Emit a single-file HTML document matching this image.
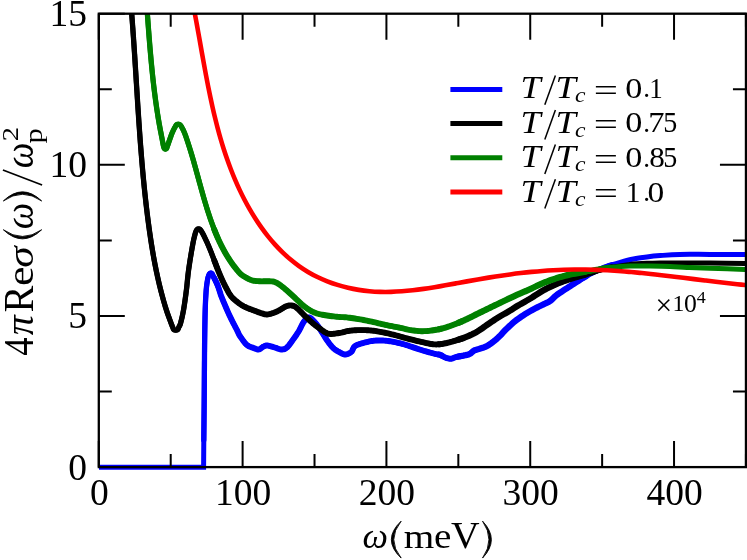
<!DOCTYPE html>
<html><head><meta charset="utf-8"><title>chart</title>
<style>
html,body{margin:0;padding:0;background:#fff;}
body{width:747px;height:560px;overflow:hidden;position:relative;font-family:"Liberation Serif",serif;}
</style></head><body>
<svg width="747" height="560" viewBox="0 0 747 560" style="position:absolute;left:0;top:0;display:block;will-change:transform">
<rect x="0" y="0" width="747" height="560" fill="#fff"/>
<defs><clipPath id="pc"><rect x="98.8" y="13.7" width="646.2" height="456.4"/></clipPath></defs>
<g clip-path="url(#pc)" fill="none" stroke-width="5" stroke-linejoin="round" stroke-linecap="butt">
<path d="M99 467.3 L203.6 467.3 L203.8 440 C203.87 433.33 204.07 415.87 204.20 400.00 C204.33 384.13 204.43 359.77 204.60 344.80 C204.77 329.83 204.93 319.32 205.20 310.20 C205.47 301.08 205.80 295.23 206.20 290.10 C206.60 284.97 207.18 281.82 207.60 279.40 C208.02 276.98 208.33 276.58 208.70 275.60 C209.07 274.62 209.28 273.87 209.80 273.50 C210.32 273.13 211.22 272.95 211.80 273.40 C212.38 273.85 212.35 274.27 213.30 276.20 C214.25 278.13 216.40 282.37 217.50 285.00 C218.60 287.63 219.15 289.83 219.90 292.00 C220.65 294.17 220.43 294.17 222.00 298.00 C223.57 301.83 226.80 309.63 229.30 315.00 C231.80 320.37 235.22 326.68 237.00 330.20 C238.78 333.72 238.38 333.67 240.00 336.10 C241.62 338.53 244.47 342.83 246.70 344.80 C248.93 346.77 251.40 347.12 253.40 347.90 C255.40 348.68 257.03 349.72 258.70 349.50 C260.37 349.28 261.95 347.27 263.40 346.60 C264.85 345.93 265.50 345.35 267.40 345.50 C269.30 345.65 272.45 346.83 274.80 347.50 C277.15 348.17 279.48 349.50 281.50 349.50 C283.52 349.50 284.90 349.25 286.90 347.50 C288.90 345.75 291.50 341.75 293.50 339.00 C295.50 336.25 297.33 333.63 298.90 331.00 C300.47 328.37 301.78 325.10 302.90 323.20 C304.02 321.30 304.82 320.48 305.60 319.60 C306.38 318.72 306.93 318.23 307.60 317.90 C308.27 317.57 308.77 317.28 309.60 317.60 C310.43 317.92 311.10 318.23 312.60 319.80 C314.10 321.37 316.25 323.67 318.60 327.00 C320.95 330.33 324.23 336.27 326.70 339.80 C329.17 343.33 331.08 346.03 333.40 348.20 C335.72 350.37 338.57 351.75 340.60 352.80 C342.63 353.85 343.80 354.67 345.60 354.50 C347.40 354.33 349.87 353.18 351.40 351.80 C352.93 350.42 352.90 347.65 354.80 346.20 C356.70 344.75 359.68 344.00 362.80 343.10 C365.92 342.20 369.92 341.22 373.50 340.80 C377.08 340.38 380.72 340.37 384.30 340.60 C387.88 340.83 391.43 341.50 395.00 342.20 C398.57 342.90 403.08 344.08 405.70 344.80 C408.32 345.52 407.85 345.55 410.70 346.50 C413.55 347.45 418.78 349.28 422.80 350.50 C426.82 351.72 431.90 353.06 434.80 353.80 C437.70 354.54 438.42 354.28 440.20 354.91 C441.98 355.54 443.72 356.94 445.50 357.57 C447.28 358.21 449.12 358.84 450.90 358.75 C452.68 358.65 453.97 357.56 456.20 357.01 C458.43 356.45 462.07 355.92 464.30 355.41 C466.53 354.91 467.93 354.80 469.60 353.98 C471.27 353.16 472.52 351.37 474.30 350.47 C476.08 349.57 478.18 349.32 480.30 348.57 C482.42 347.82 484.77 347.18 487.00 345.98 C489.23 344.79 491.58 343.04 493.70 341.39 C495.82 339.75 497.63 338.11 499.70 336.10 C501.77 334.08 503.25 332.01 506.10 329.30 C508.95 326.59 512.78 322.89 516.80 319.85 C520.82 316.82 525.75 313.69 530.20 311.10 C534.65 308.51 540.17 306.03 543.50 304.33 C546.83 302.63 547.97 302.48 550.20 300.90 C552.43 299.32 553.55 297.34 556.90 294.87 C560.25 292.39 565.83 288.96 570.30 286.07 C574.77 283.17 579.85 279.83 583.70 277.52 C587.55 275.22 589.55 274.05 593.40 272.22 C597.25 270.40 602.33 268.23 606.80 266.59 C611.27 264.95 615.75 263.65 620.20 262.39 C624.65 261.13 629.05 259.93 633.50 259.03 C637.95 258.12 642.43 257.54 646.90 256.96 C651.37 256.39 654.83 256.01 660.30 255.59 C665.77 255.16 671.42 254.61 679.70 254.41 C687.98 254.21 698.62 254.40 710.00 254.40 C721.38 254.40 741.67 254.40 748.00 254.40" stroke="#0000ff" stroke-linejoin="miter"/>
<path d="M203.80 440.00 L203.83 437.02 L203.87 433.17 L203.92 428.60 L203.98 423.45 L204.03 417.87 L204.09 412.01 L204.15 406.00 L204.20 400.00 L204.25 393.69 L204.30 386.79 L204.34 379.51 L204.39 372.06 L204.44 364.66 L204.49 357.51 L204.54 350.82 L204.60 344.80 L204.66 339.39 L204.73 334.36 L204.79 329.68 L204.86 325.31 L204.94 321.21 L205.02 317.35 L205.10 313.69 L205.20 310.20 L205.30 306.93 L205.41 303.94 L205.53 301.19 L205.65 298.66 L205.78 296.31 L205.91 294.12 L206.05 292.06 L206.20 290.10 L206.36 288.27 L206.53 286.60 L206.71 285.10 L206.89 283.73 L207.08 282.49 L207.26 281.37 L207.44 280.34 L207.60 279.40 L207.75 278.58 L207.90 277.92 L208.03 277.39 L208.17 276.96 L208.30 276.60 L208.43 276.27 L208.56 275.95 L208.70 275.60 L208.83 275.24 L208.95 274.91 L209.07 274.60 L209.19 274.32 L209.32 274.07 L209.46 273.84 L209.62 273.66 L209.80 273.50 L210.01 273.37 L210.25 273.27 L210.51 273.19 L210.78 273.14 L211.05 273.14 L211.31 273.17 L211.57 273.26 L211.80 273.40 L211.99 273.57 L212.15 273.76 L212.28 273.97 L212.41 274.24 L212.56 274.58 L212.75 275.01 L212.99 275.54 L213.30 276.20 L213.71 277.03 L214.20 278.02 L214.76 279.14 L215.34 280.34 L215.94 281.57 L216.51 282.79 L217.04 283.95 L217.50 285.00 L217.89 285.97" stroke="#0000ff" stroke-width="5.3" stroke-linecap="round"/>
<path d="M214.20 278.02 L214.76 279.14 L215.34 280.34 L215.94 281.57 L216.51 282.79 L217.04 283.95 L217.50 285.00 L217.89 285.97 L218.23 286.90 L218.55 287.80 L218.83 288.68 L219.10 289.53 L219.36 290.36 L219.63 291.19 L219.90 292.00 L220.14 292.72 L220.32 293.31 L220.48 293.84 L220.64 294.38 L220.84 294.99 L221.12 295.75 L221.49 296.73 L222.00 298.00 L222.66 299.61 L223.45 301.52 L224.34 303.65 L225.30 305.93 L226.30 308.27 L227.33 310.62 L228.33 312.89 L229.30 315.00 L230.28 317.05 L231.31 319.14 L232.36 321.24 L233.42 323.29 L234.44 325.26 L235.40 327.10 L236.26 328.76 L237.00 330.20 L237.57 331.36 L237.99 332.26 L238.31 332.97 L238.56 333.56 L238.81 334.09 L239.10 334.65 L239.48 335.29 L240.00 336.10 L240.66 337.09 L241.41 338.21 L242.24 339.40 L243.12 340.63 L244.02 341.82 L244.94 342.95 L245.84 343.96 L246.70 344.80 L247.55 345.47 L248.41 346.00 L249.27 346.44 L250.14 346.79 L250.99 347.09 L251.82 347.36 L252.63 347.62 L253.40 347.90 L254.13 348.20 L254.84 348.51 L255.52 348.81 L256.17 349.07 L256.82 349.30 L257.45 349.45 L258.08 349.53 L258.70 349.50 L259.32 349.34 L259.93 349.05 L260.54 348.66 L261.13 348.22 L261.72 347.75 L262.29 347.30 L262.85 346.91 L263.40 346.60 L263.91 346.36 L264.37 346.13 L264.80 345.92 L265.23 345.74 L265.68 345.61 L266.18 345.51 L266.74 345.48 L267.40 345.50 L268.17 345.60 L269.03 345.78 L269.96 346.02 L270.93 346.31 L271.93 346.61 L272.92 346.93 L273.89 347.23 L274.80 347.50 L275.68 347.78 L276.55 348.09 L277.42 348.43 L278.27 348.75 L279.11 349.04 L279.93 349.28 L280.73 349.44 L281.50 349.50 L282.23 349.49 L282.91 349.43 L283.57 349.33 L284.21 349.16 L284.84 348.90 L285.50 348.55 L286.18 348.09 L286.90 347.50 L287.68 346.75 L288.49 345.82 L289.34 344.77 L290.20 343.62 L291.06 342.44 L291.91 341.24 L292.72 340.08 L293.50 339.00 L294.24 337.97 L294.97 336.96 L295.67 335.95 L296.36 334.96 L297.03 333.96 L297.68 332.97 L298.30 331.99 L298.90 331.00 L299.48 329.99 L300.03 328.94 L300.56 327.88 L301.07 326.82 L301.56 325.81 L302.02 324.85 L302.47 323.97 L302.90 323.20 L303.30 322.54 L303.68 321.96 L304.04 321.46 L304.37 321.02 L304.70 320.63 L305.00 320.27 L305.30 319.93 L305.60 319.60 L305.88 319.29 L306.15 319.01 L306.40 318.76 L306.64 318.54 L306.88 318.35 L307.12 318.18 L307.35 318.03 L307.60 317.90 L307.84 317.78 L308.08 317.67 L308.31 317.58 L308.54 317.51 L308.78 317.47 L309.03 317.47 L309.30 317.51 L309.60 317.60 L309.91 317.72 L310.21 317.86 L310.52 318.02 L310.85 318.23 L311.21 318.50 L311.62 318.84 L312.07 319.27 L312.60 319.80 L313.19 320.42 L313.84 321.12 L314.54 321.89 L315.28 322.74 L316.06 323.67 L316.88 324.69 L317.73 325.80 L318.60 327.00 L319.52 328.36 L320.51 329.91 L321.55 331.58 L322.61 333.33 L323.67 335.08 L324.72 336.78 L325.74 338.37 L326.70 339.80 L327.60 341.09 L328.46 342.30 L329.29 343.44 L330.11 344.51 L330.91 345.52 L331.72 346.47 L332.55 347.36 L333.40 348.20 L334.29 348.98 L335.22 349.69 L336.16 350.33 L337.11 350.92 L338.04 351.45 L338.94 351.94 L339.80 352.39 L340.60 352.80 L341.32 353.18 L341.99 353.53 L342.60 353.84 L343.19 354.11 L343.76 354.31 L344.35 354.45 L344.95 354.52 L345.60 354.50 L346.30 354.39 L347.05 354.20 L347.82 353.94 L348.60 353.61 L349.37 353.22 L350.10 352.78 L350.78 352.31 L351.40 351.80 L351.91 351.22 L352.31 350.55 L352.65 349.80 L352.96 349.02 L353.29 348.24 L353.68 347.49 L354.17 346.80 L354.80 346.20 L355.56 345.69 L356.41 345.23 L357.34 344.82 L358.34 344.44 L359.40 344.09 L360.50 343.76 L361.64 343.43 L362.80 343.10 L364.01 342.76 L365.28 342.42 L366.61 342.09 L367.98 341.77 L369.36 341.47 L370.75 341.21 L372.14 340.98 L373.50 340.80 L374.85 340.66 L376.20 340.56 L377.55 340.49 L378.90 340.46 L380.25 340.45 L381.60 340.47 L382.95 340.52 L384.30 340.60 L385.64 340.71 L386.98 340.85 L388.32 341.02 L389.66 341.23 L390.99 341.45 L392.33 341.69 L393.66 341.94 L395.00 342.20 L396.38 342.48 L397.81 342.80 L399.26 343.14 L400.71 343.49 L402.10 343.85 L403.43 344.19 L404.64 344.51 L405.70 344.80 L406.55 345.04 L407.18 345.23 L407.68 345.40 L408.11 345.56 L408.56 345.73 L409.08 345.93 L409.77 346.18 L410.70 346.50 L411.87 346.89 L413.23 347.35 L414.72 347.86 L416.31 348.40 L417.96 348.95 L419.62 349.50 L421.24 350.02 L422.80 350.50 L424.35 350.96 L425.96 351.43 L427.60 351.89 L429.22 352.33 L430.79 352.75 L432.27 353.15 L433.62 353.50 L434.80 353.80 L435.79 354.03 L436.62 354.20 L437.31 354.31 L437.92 354.39 L438.47 354.48 L439.01 354.57 L439.57 354.71 L440.20 354.91 L440.87 355.18 L441.53 355.50" stroke="#0000ff" stroke-width="5.9" stroke-linecap="round"/>
<path d="M438.47 354.48 L439.01 354.57 L439.57 354.71 L440.20 354.91 L440.87 355.18 L441.53 355.50 L442.19 355.86 L442.85 356.24 L443.51 356.62 L444.17 356.98 L444.83 357.30 L445.50 357.57 L446.17 357.81 L446.85 358.04 L447.52 358.25 L448.20 358.43 L448.88 358.58 L449.55 358.69 L450.23 358.75 L450.90 358.75 L451.55 358.67 L452.17 358.51 L452.77 358.30 L453.38 358.05 L454.01 357.78 L454.68 357.50 L455.40 357.24 L456.20 357.01 L457.10 356.80 L458.09 356.60 L459.16 356.39 L460.25 356.19 L461.34 356.00" stroke="#0000ff" stroke-width="6" stroke-linecap="round"/>
<path d="M458.09 356.60 L459.16 356.39 L460.25 356.19 L461.34 356.00 L462.41 355.80 L463.40 355.61 L464.30 355.41 L465.10 355.24 L465.84 355.09 L466.52 354.96 L467.16 354.82 L467.78 354.66 L468.38 354.48 L468.99 354.26 L469.60 353.98 L470.21 353.63 L470.79 353.21 L471.35 352.75 L471.91 352.25 L472.47 351.76 L473.05 351.28 L473.65 350.85 L474.30 350.47 L474.98 350.16 L475.69 349.90 L476.42 349.67 L477.18 349.46 L477.94 349.26 L478.72 349.06 L479.51 348.83 L480.30 348.57 L481.10 348.29 L481.93 348.02 L482.76 347.74 L483.61 347.45 L484.46 347.13 L485.31 346.79 L486.16 346.41 L487.00 345.98 L487.84 345.51 L488.69 344.99 L489.54 344.44 L490.39 343.86 L491.24 343.26 L492.07 342.64 L492.90 342.02 L493.70 341.39 L494.48 340.78 L495.24 340.16 L495.98 339.53 L496.72 338.88 L497.45 338.22 L498.19 337.54 L498.94 336.83 L499.70 336.10 L500.45 335.34 L501.17 334.56 L501.88 333.77 L502.61 332.96 L503.37 332.11 L504.19 331.22 L505.09 330.29 L506.10 329.30 L507.21 328.24 L508.41 327.11 L509.68 325.92 L511.01 324.70 L512.40 323.46 L513.83 322.23 L515.30 321.02 L516.80 319.85 L518.35 318.71 L519.96 317.57 L521.63 316.43 L523.34 315.31 L525.06 314.21 L526.79 313.13 L528.51 312.09 L530.20 311.10 L531.91 310.14 L533.69 309.19 L535.48 308.27 L537.27 307.38 L539.00 306.54 L540.64 305.74 L542.15 305.01 L543.50 304.33 L544.65 303.76 L545.64 303.30 L546.50 302.92 L547.26 302.57 L547.98 302.23 L548.68 301.86 L549.41 301.43 L550.20 300.90 L550.99 300.29 L551.72 299.64 L552.42 298.95 L553.13 298.22 L553.90 297.44 L554.75 296.63 L555.74 295.77 L556.90 294.87 L558.25 293.90 L559.78 292.85 L561.43 291.76 L563.18 290.62 L564.98 289.47 L566.79 288.31 L568.58 287.17 L570.30 286.07 L572.00 284.96 L573.74 283.84 L575.49 282.70 L577.23 281.58 L578.95 280.48 L580.61 279.42 L582.20 278.43 L583.70 277.52 L585.06 276.71 L586.30 275.98" stroke="#0000ff" stroke-width="6.3" stroke-linecap="round"/>
<path d="M583.70 277.52 L585.06 276.71 L586.30 275.98 L587.45 275.31 L588.55 274.69 L589.65 274.09 L590.80 273.50 L592.04 272.88 L593.40 272.22 L594.90 271.53 L596.49 270.80 L598.15 270.07 L599.87 269.34 L601.61 268.61 L603.36 267.90 L605.10 267.23 L606.80 266.59 L608.48 265.99 L610.15 265.42 L611.83 264.87" stroke="#0000ff" stroke-width="5.6" stroke-linecap="round"/>
<path d="M130.57 0.04 C130.76 2.29 131.33 9.05 131.69 13.57 C132.04 18.08 132.38 22.60 132.71 27.12 C133.04 31.64 133.36 36.16 133.67 40.69 C133.98 45.21 134.28 49.74 134.58 54.28 C134.87 58.81 135.16 63.34 135.45 67.87 C135.73 72.41 136.02 76.94 136.30 81.48 C136.58 86.02 136.87 90.56 137.15 95.10 C137.44 99.63 137.73 104.17 138.02 108.71 C138.32 113.25 138.62 117.79 138.93 122.33 C139.24 126.87 139.55 131.40 139.88 135.94 C140.21 140.48 140.55 145.01 140.91 149.55 C141.26 154.08 141.63 158.61 142.02 163.14 C142.41 167.67 142.81 172.20 143.23 176.73 C143.66 181.25 144.10 185.78 144.57 190.29 C145.04 194.81 145.52 199.33 146.04 203.84 C146.56 208.36 147.10 212.86 147.67 217.37 C148.24 221.87 148.84 226.37 149.47 230.87 C150.11 235.36 150.77 239.85 151.48 244.34 C152.20 248.82 152.94 253.29 153.75 257.75 C154.56 262.21 155.42 266.67 156.34 271.11 C157.27 275.55 158.25 279.97 159.30 284.38 C160.36 288.79 161.48 293.19 162.70 297.57 C163.91 301.94 165.15 306.32 166.57 310.64 C167.99 314.96 170.20 320.77 171.20 323.50 C172.20 326.23 172.13 325.97 172.60 327.00 C173.07 328.03 173.18 329.25 174.00 329.70 C174.82 330.15 176.68 330.15 177.50 329.70 C178.32 329.25 178.40 328.03 178.90 327.00 C179.40 325.97 179.73 326.30 180.50 323.50 C181.27 320.70 182.52 315.77 183.50 310.20 C184.48 304.63 185.55 296.80 186.40 290.10 C187.25 283.40 187.57 277.48 188.60 270.00 C189.63 262.52 191.50 251.27 192.60 245.20 C193.70 239.13 194.47 236.20 195.20 233.60 C195.93 231.00 196.43 230.38 197.00 229.60 C197.57 228.82 198.05 228.90 198.60 228.90 C199.15 228.90 199.64 228.88 200.30 229.60 C200.96 230.32 201.47 231.11 202.58 233.21 C203.69 235.31 205.59 239.16 206.96 242.20 C208.34 245.23 209.58 248.33 210.82 251.43 C212.06 254.52 213.22 257.66 214.41 260.78 C215.61 263.89 216.77 267.02 218.02 270.11 C219.27 273.20 220.52 276.29 221.90 279.32 C223.29 282.34 224.72 285.34 226.33 288.26 C227.95 291.17 229.31 294.18 231.59 296.81 C233.86 299.43 237.60 302.23 240.00 304.00 C242.40 305.77 243.77 306.35 246.00 307.40 C248.23 308.45 250.73 309.30 253.40 310.30 C256.07 311.30 259.57 312.72 262.00 313.40 C264.43 314.08 265.42 314.77 268.00 314.40 C270.58 314.03 274.58 312.50 277.50 311.20 C280.42 309.90 283.27 307.57 285.50 306.60 C287.73 305.63 289.12 305.27 290.90 305.40 C292.68 305.53 293.97 305.75 296.20 307.40 C298.43 309.05 301.62 312.73 304.30 315.30 C306.98 317.87 309.63 320.53 312.30 322.80 C314.97 325.07 318.12 327.30 320.30 328.90 C322.48 330.50 323.67 331.55 325.40 332.40 C327.13 333.25 328.25 333.93 330.70 334.00 C333.15 334.07 336.97 333.33 340.10 332.80 C343.23 332.27 346.15 331.25 349.50 330.80 C352.85 330.35 356.63 330.15 360.20 330.10 C363.77 330.05 367.33 330.17 370.90 330.50 C374.47 330.83 377.58 331.33 381.60 332.10 C385.62 332.87 390.77 334.05 395.00 335.10 C399.23 336.15 402.67 337.28 407.00 338.40 C411.33 339.52 416.37 340.83 421.00 341.83 C425.63 342.83 430.72 344.17 434.80 344.40 C438.88 344.63 441.93 343.90 445.50 343.23 C449.07 342.56 452.63 341.48 456.20 340.38 C459.77 339.28 463.33 338.13 466.90 336.63 C470.47 335.12 473.75 333.65 477.60 331.35 C481.45 329.05 486.27 325.33 490.00 322.83 C493.73 320.34 496.67 318.43 500.00 316.40 C503.33 314.37 507.20 312.32 510.00 310.63 C512.80 308.95 513.43 308.30 516.80 306.29 C520.17 304.29 525.75 301.27 530.20 298.60 C534.65 295.92 539.05 292.72 543.50 290.26 C547.95 287.81 552.43 285.74 556.90 283.86 C561.37 281.98 564.83 280.75 570.30 279.00 C575.77 277.24 584.97 274.78 589.70 273.34 C594.43 271.89 595.32 271.31 598.70 270.32 C602.08 269.32 606.42 268.10 610.00 267.37 C613.58 266.63 616.87 266.39 620.20 265.89 C623.53 265.40 625.55 264.82 630.00 264.40 C634.45 263.98 641.90 263.58 646.90 263.35 C651.90 263.11 654.53 263.07 660.00 263.00 C665.47 262.93 671.37 262.88 679.70 262.90 C688.03 262.92 698.62 262.98 710.00 263.10 C721.38 263.22 741.67 263.52 748.00 263.60" stroke="#000000"/>
<path d="M130.57 0.04 L130.66 1.08 L130.78 2.47 L130.91 4.12 L131.07 5.95 L131.23 7.90 L131.39 9.86 L131.54 11.78 L131.69 13.57 L131.82 15.26 L131.95 16.95 L132.08 18.65 L132.21 20.34 L132.34 22.03 L132.46 23.73 L132.59 25.42 L132.71 27.12 L132.84 28.81 L132.96 30.51 L133.08 32.21 L133.20 33.90 L133.32 35.60 L133.44 37.29 L133.55 38.99 L133.67 40.69 L133.79 42.39 L133.90 44.08 L134.02 45.78 L134.13 47.48 L134.24 49.18 L134.35 50.88 L134.47 52.58 L134.58 54.28 L134.69 55.97 L134.80 57.67 L134.91 59.37 L135.01 61.07 L135.12 62.77 L135.23 64.47 L135.34 66.17 L135.45 67.87 L135.55 69.57 L135.66 71.27 L135.77 72.98 L135.87 74.68 L135.98 76.38 L136.09 78.08 L136.19 79.78 L136.30 81.48 L136.41 83.18 L136.51 84.88 L136.62 86.59 L136.73 88.29 L136.83 89.99 L136.94 91.69 L137.05 93.39 L137.15 95.10 L137.26 96.80 L137.37 98.50 L137.48 100.20 L137.58 101.90 L137.69 103.61 L137.80 105.31 L137.91 107.01 L138.02 108.71 L138.13 110.41 L138.24 112.12 L138.36 113.82 L138.47 115.52 L138.58 117.22 L138.70 118.92 L138.81 120.63 L138.93 122.33 L139.04 124.03 L139.16 125.73 L139.28 127.43 L139.40 129.14 L139.52 130.84 L139.64 132.54 L139.76 134.24 L139.88 135.94 L140.01 137.64 L140.13 139.34 L140.26 141.04 L140.38 142.75 L140.51 144.45 L140.64 146.15 L140.77 147.85 L140.91 149.55 L141.04 151.25 L141.18 152.95 L141.31 154.65 L141.45 156.35 L141.59 158.05 L141.73 159.75 L141.87 161.44 L142.02 163.14 L142.16 164.84 L142.31 166.54 L142.46 168.24 L142.61 169.94 L142.76 171.64 L142.92 173.33 L143.07 175.03 L143.23 176.73 L143.39 178.42 L143.55 180.12 L143.72 181.82 L143.88 183.51 L144.05 185.21 L144.22 186.90 L144.39 188.60 L144.57 190.29 L144.74 191.99 L144.92 193.68 L145.10 195.38 L145.29 197.07 L145.47 198.76 L145.66 200.46 L145.85 202.15 L146.04 203.84 L146.24 205.54 L146.43 207.23 L146.63 208.92 L146.84 210.61 L147.04 212.30 L147.25 213.99 L147.46 215.68 L147.67 217.37 L147.89 219.06 L148.10 220.75 L148.32 222.43 L148.55 224.12 L148.77 225.81 L149.00 227.50 L149.24 229.18 L149.47 230.87 L149.71 232.55 L149.95 234.24 L150.20 235.92 L150.45 237.61 L150.70 239.29 L150.96 240.97 L151.22 242.65 L151.48 244.34 L151.75 246.02 L152.02 247.69 L152.30 249.37 L152.58 251.05 L152.87 252.73 L153.16 254.40 L153.45 256.08 L153.75 257.75 L154.06 259.43 L154.37 261.10 L154.68 262.77 L155.00 264.44 L155.33 266.11 L155.66 267.78 L156.00 269.44 L156.34 271.11 L156.69 272.77 L157.05 274.43 L157.41 276.10 L157.77 277.76 L158.15 279.42 L158.53 281.07 L158.91 282.73 L159.30 284.38 L159.70 286.04 L160.11 287.69 L160.52 289.34 L160.94 290.99 L161.37 292.63 L161.80 294.28 L162.25 295.92 L162.70 297.57 L163.15 299.21 L163.61 300.85 L164.08 302.49 L164.56 304.12 L165.04 305.76 L165.54 307.39 L166.05 309.02 L166.57 310.64 L167.14 312.32 L167.75 314.09 L168.39 315.89 L169.04 317.67 L169.67 319.37 L170.25 320.95 L170.77 322.34 L171.20 323.50 L171.53 324.39 L171.78 325.05 L171.96 325.53 L172.10 325.88 L172.22 326.16 L172.33 326.40 L172.45 326.66 L172.60 327.00 L172.76 327.39 L172.90 327.79 L173.03 328.19 L173.17 328.57 L173.32 328.92 L173.50 329.23 L173.72 329.50 L174.00 329.70 L174.35 329.85 L174.78 329.95 L175.25 330.02 L175.75 330.04 L176.25 330.02 L176.72 329.95 L177.15 329.85 L177.50 329.70 L177.77 329.50 L177.99 329.23 L178.17 328.92 L178.32 328.57 L178.45 328.19 L178.59 327.79 L178.73 327.39 L178.90 327.00 L179.08 326.67 L179.25 326.41 L179.42 326.18 L179.60 325.91 L179.79 325.57 L180.00 325.08 L180.23 324.41 L180.50 323.50 L180.81 322.35 L181.15 321.02 L181.53 319.53 L181.92 317.89 L182.32 316.12 L182.72 314.23 L183.12 312.25 L183.50 310.20 L183.87 308.01 L184.25 305.65 L184.63 303.16 L185.00 300.57 L185.37 297.94 L185.73 295.28 L186.07 292.66 L186.40 290.10 L186.70 287.62 L186.96 285.19 L187.20 282.77 L187.43 280.34 L187.67 277.88 L187.94 275.36 L188.24 272.74 L188.60 270.00 L189.02 267.03 L189.51 263.82 L190.03 260.46 L190.57 257.07 L191.12 253.74 L191.66 250.58 L192.15 247.70 L192.60 245.20 L193.00 243.07 L193.37 241.19 L193.71 239.55 L194.04 238.10 L194.35 236.81 L194.64 235.66 L194.92 234.60 L195.20 233.60 L195.46 232.71 L195.71 231.99 L195.94 231.40 L196.16 230.92 L196.37 230.52 L196.58 230.19 L196.79 229.89 L197.00 229.60 L197.21 229.35 L197.41 229.16 L197.61 229.03 L197.81 228.96 L198.00 228.91 L198.20 228.90 L198.40 228.90 L198.60 228.90 L198.80 228.90 L199.00 228.91 L199.20 228.93 L199.41 228.98 L199.62 229.06 L199.83 229.19 L200.06 229.36 L200.30 229.60 L200.54 229.88 L200.78 230.17 L201.02 230.51 L201.27 230.89 L201.54 231.34 L201.85 231.86 L202.19 232.48 L202.58 233.21 L203.03 234.08 L203.54 235.07 L204.09 236.18 L204.67 237.35 L205.27 238.57 L205.86 239.81 L206.43 241.03 L206.96 242.20 L207.47 243.34 L207.97 244.49 L208.46 245.64 L208.94 246.79 L209.42 247.95 L209.89 249.11 L210.35 250.27 L210.82 251.43 L211.28 252.59 L211.74 253.76 L212.19 254.93 L212.63 256.10 L213.08 257.27 L213.52 258.44 L213.97 259.61 L214.41 260.78 L214.86 261.94 L215.31 263.11 L215.75 264.28 L216.20 265.45 L216.65 266.62 L217.10 267.79 L217.55 268.95" stroke="#000000" stroke-width="5.3" stroke-linecap="round"/>
<path d="M214.41 260.78 L214.86 261.94 L215.31 263.11 L215.75 264.28 L216.20 265.45 L216.65 266.62 L217.10 267.79 L217.55 268.95 L218.02 270.11 L218.49 271.27 L218.96 272.43 L219.43 273.59 L219.91 274.74 L220.39 275.89 L220.89 277.04 L221.39 278.18 L221.90 279.32 L222.42 280.45 L222.95 281.58 L223.49 282.71 L224.03 283.83 L224.59 284.94 L225.16 286.06 L225.74 287.16 L226.33 288.26 L226.93 289.35 L227.51 290.45 L228.10 291.55 L228.71 292.64 L229.35 293.72 L230.03 294.77 L230.77 295.81 L231.59 296.81 L232.50 297.80 L233.52 298.79 L234.62 299.77 L235.75 300.73 L236.88 301.64 L237.99 302.50 L239.04 303.29 L240.00 304.00 L240.86 304.61 L241.64 305.13 L242.37 305.57 L243.06 305.97 L243.75 306.33 L244.46 306.67 L245.20 307.02 L246.00 307.40 L246.85 307.79 L247.72 308.16 L248.62 308.52 L249.54 308.87 L250.48 309.22 L251.43 309.57 L252.41 309.93 L253.40 310.30 L254.44 310.69 L255.53 311.11 L256.65 311.54 L257.79 311.97 L258.91 312.38 L260.00 312.77 L261.04 313.11 L262.00 313.40 L262.85 313.65 L263.60 313.90 L264.29 314.11 L264.94 314.29 L265.61 314.42 L266.31 314.49 L267.10 314.49 L268.00 314.40 L269.03 314.21 L270.16 313.93 L271.37 313.57 L272.62 313.15 L273.89 312.69 L275.15 312.20 L276.36 311.70 L277.50 311.20 L278.59 310.67 L279.67 310.07 L280.72 309.43 L281.76 308.77 L282.76 308.14 L283.72 307.54 L284.63 307.02 L285.50 306.60 L286.30 306.27 L287.04 305.99 L287.72 305.76 L288.37 305.59 L289.00 305.47 L289.62 305.40 L290.25 305.37 L290.90 305.40 L291.55 305.46 L292.17 305.54 L292.77 305.66 L293.38 305.83 L294.01 306.08 L294.68 306.41 L295.40 306.85 L296.20 307.40 L297.08 308.11 L298.03 308.97 L299.04 309.95 L300.08 311.01 L301.15 312.11 L302.22 313.21 L303.27 314.29 L304.30 315.30 L305.30 316.27 L306.31 317.24 L307.31 318.20 L308.31 319.16 L309.30 320.11 L310.30 321.03 L311.30 321.93 L312.30 322.80 L313.32 323.65 L314.37 324.48 L315.43 325.30 L316.48 326.10 L317.51 326.86 L318.50 327.59 L319.44 328.27 L320.30 328.90 L321.07 329.47 L321.77 330.00 L322.42 330.49 L323.02 330.93 L323.60 331.34 L324.18 331.72 L324.77 332.07 L325.40 332.40 L326.02 332.71 L326.61 333.00 L327.19 333.26 L327.78 333.49 L328.40 333.69 L329.08 333.84 L329.84 333.95 L330.70 334.00 L331.68 333.99 L332.76 333.92 L333.92 333.79 L335.14 333.63 L336.39 333.43 L337.65 333.22 L338.90 333.01 L340.10 332.80 L341.27 332.58 L342.42 332.33 L343.57 332.05 L344.72 331.77 L345.88 331.49 L347.06 331.23 L348.26 330.99 L349.50 330.80 L350.78 330.64 L352.08 330.51 L353.42 330.39 L354.77 330.30 L356.13 330.22 L357.49 330.17 L358.85 330.13 L360.20 330.10 L361.54 330.09 L362.88 330.09 L364.21 330.12 L365.55 330.16 L366.89 330.21 L368.22 330.29 L369.56 330.39 L370.90 330.50 L372.22 330.63 L373.51 330.78 L374.79 330.95 L376.08 331.14 L377.39 331.34 L378.74 331.57 L380.13 331.82 L381.60 332.10 L383.16 332.41 L384.79 332.74 L386.49 333.11 L388.22 333.49 L389.96 333.89 L391.69 334.30 L393.37 334.70 L395.00 335.10 L396.55 335.50 L398.05 335.90 L399.51 336.31 L400.96 336.72 L402.42 337.14 L403.89 337.56 L405.41 337.98 L407.00 338.40 L408.66 338.83 L410.36 339.27 L412.11 339.72 L413.89 340.16 L415.68 340.60 L417.47 341.03 L419.25 341.44 L421.00 341.83 L422.76 342.22 L424.54 342.62 L426.33 343.02 L428.11 343.40 L429.86 343.75 L431.57 344.04 L433.22 344.26 L434.80 344.40 L436.29 344.44 L437.69 344.41 L439.04 344.31 L440.34 344.15 L441.62 343.95" stroke="#000000" stroke-width="5.9" stroke-linecap="round"/>
<path d="M439.04 344.31 L440.34 344.15 L441.62 343.95 L442.90 343.73 L444.18 343.48 L445.50 343.23 L446.84 342.96 L448.18 342.65 L449.51 342.32 L450.85 341.96 L452.19 341.59 L453.52 341.19 L454.86 340.79 L456.20 340.38 L457.54 339.96 L458.88 339.54 L460.21 339.10 L461.55 338.65" stroke="#000000" stroke-width="6" stroke-linecap="round"/>
<path d="M458.88 339.54 L460.21 339.10 L461.55 338.65 L462.89 338.19 L464.22 337.69 L465.56 337.18 L466.90 336.63 L468.23 336.06 L469.54 335.49 L470.84 334.90 L472.14 334.29 L473.46 333.63 L474.81 332.93 L476.18 332.18 L477.60 331.35 L479.09 330.43 L480.64 329.40 L482.23 328.30 L483.84 327.16 L485.45 326.02 L487.03 324.89 L488.55 323.82 L490.00 322.83 L491.36 321.92 L492.67 321.06 L493.93 320.24 L495.15 319.44 L496.36 318.67 L497.56 317.91 L498.77 317.16 L500.00 316.40 L501.27 315.64 L502.57 314.88 L503.89 314.13 L505.20 313.39 L506.48 312.66 L507.73 311.96 L508.90 311.28 L510.00 310.63 L510.96 310.05 L511.77 309.53 L512.49 309.05 L513.19 308.58 L513.91 308.10 L514.71 307.58 L515.66 306.99 L516.80 306.29 L518.16 305.49 L519.69 304.62 L521.35 303.68 L523.09 302.69 L524.89 301.68 L526.70 300.64 L528.48 299.61 L530.20 298.60 L531.87 297.57 L533.53 296.51 L535.19 295.43 L536.85 294.35 L538.51 293.27 L540.17 292.22 L541.83 291.22 L543.50 290.26 L545.17 289.36 L546.84 288.49 L548.52 287.65 L550.19 286.85 L551.87 286.06 L553.55 285.31 L555.22 284.58 L556.90 283.86 L558.53 283.19 L560.11 282.56 L561.66 281.96 L563.23 281.38 L564.84 280.81 L566.53 280.23 L568.34 279.63 L570.30 279.00 L572.51 278.31 L574.97 277.58 L577.59 276.82 L580.27 276.05 L582.92 275.30 L585.44 274.59" stroke="#000000" stroke-width="6.3" stroke-linecap="round"/>
<path d="M585.44 274.59 L587.73 273.92 L589.70 273.34 L591.31 272.83 L592.63 272.40 L593.74 272.01 L594.71 271.66 L595.61 271.33 L596.53 271.01 L597.54 270.67 L598.70 270.32 L600.01 269.94 L601.39 269.54 L602.82 269.14 L604.27 268.75 L605.74 268.36 L607.20 268.00 L608.62 267.66 L610.00 267.37 L611.33 267.11" stroke="#000000" stroke-width="5.6" stroke-linecap="round"/>
<path d="M146.34 -0.00 C146.53 2.61 147.11 10.43 147.50 15.64 C147.89 20.86 148.27 26.07 148.67 31.29 C149.07 36.51 149.48 41.72 149.92 46.94 C150.36 52.15 150.81 57.36 151.30 62.57 C151.79 67.78 152.31 72.98 152.88 78.18 C153.45 83.38 154.05 88.57 154.71 93.76 C155.37 98.94 156.08 104.12 156.86 109.29 C157.64 114.46 158.47 119.63 159.38 124.78 C160.29 129.93 161.65 136.63 162.34 140.20 C163.02 143.77 163.14 144.78 163.50 146.20 C163.86 147.62 164.03 148.28 164.50 148.70 C164.97 149.12 165.82 149.12 166.30 148.70 C166.78 148.28 166.47 148.73 167.40 146.20 C168.33 143.67 170.58 136.77 171.90 133.50 C173.22 130.23 174.47 128.10 175.30 126.60 C176.13 125.10 176.20 124.85 176.90 124.50 C177.60 124.15 178.75 124.15 179.50 124.50 C180.25 124.85 180.52 125.09 181.40 126.60 C182.28 128.11 183.60 130.61 184.79 133.58 C185.98 136.56 187.33 140.81 188.53 144.46 C189.72 148.12 190.84 151.82 191.94 155.52 C193.05 159.23 194.10 162.97 195.15 166.71 C196.20 170.45 197.21 174.21 198.25 177.97 C199.28 181.72 200.30 185.49 201.35 189.24 C202.40 193.00 203.45 196.76 204.55 200.49 C205.66 204.23 206.78 207.95 207.97 211.65 C209.17 215.35 210.39 219.03 211.71 222.68 C213.03 226.32 214.40 229.94 215.88 233.51 C217.37 237.07 218.92 240.60 220.62 244.06 C222.32 247.52 224.11 250.92 226.08 254.24 C228.04 257.55 230.12 260.81 232.40 263.95 C234.68 267.09 237.65 270.91 239.75 273.08 C241.85 275.26 242.96 275.80 245.00 277.00 C247.04 278.20 249.50 279.58 252.00 280.30 C254.50 281.02 257.53 281.13 260.00 281.30 C262.47 281.47 264.33 281.18 266.80 281.30 C269.27 281.42 272.13 281.03 274.80 282.00 C277.47 282.97 279.68 284.68 282.80 287.10 C285.92 289.52 289.92 293.28 293.50 296.50 C297.08 299.72 300.72 303.68 304.30 306.40 C307.88 309.12 311.22 311.28 315.00 312.80 C318.78 314.32 322.88 314.80 327.00 315.50 C331.12 316.20 336.40 316.68 339.70 317.00 C343.00 317.32 343.38 317.00 346.80 317.40 C350.22 317.80 355.75 318.62 360.20 319.40 C364.65 320.18 369.05 321.13 373.50 322.10 C377.95 323.07 382.43 324.25 386.90 325.20 C391.37 326.15 396.33 326.98 400.30 327.80 C404.27 328.62 406.95 329.53 410.70 330.10 C414.45 330.67 418.78 331.21 422.80 331.20 C426.82 331.18 431.02 330.62 434.80 330.02 C438.58 329.41 441.93 328.62 445.50 327.57 C449.07 326.52 452.63 325.12 456.20 323.71 C459.77 322.29 463.33 320.74 466.90 319.08 C470.47 317.42 474.02 315.51 477.60 313.75 C481.18 311.99 484.67 310.33 488.40 308.52 C492.13 306.71 495.27 305.16 500.00 302.90 C504.73 300.64 511.77 297.26 516.80 294.96 C521.83 292.66 525.75 291.10 530.20 289.09 C534.65 287.08 539.05 284.73 543.50 282.90 C547.95 281.06 552.43 279.49 556.90 278.09 C561.37 276.69 564.83 275.69 570.30 274.49 C575.77 273.30 584.97 271.82 589.70 270.94 C594.43 270.06 595.32 269.80 598.70 269.23 C602.08 268.66 604.78 268.04 610.00 267.50 C615.22 266.96 623.33 266.25 630.00 266.00 C636.67 265.75 643.33 265.93 650.00 266.00 C656.67 266.07 663.83 266.17 670.00 266.40 C676.17 266.63 680.33 267.10 687.00 267.40 C693.67 267.70 699.83 267.85 710.00 268.20 C720.17 268.55 741.67 269.28 748.00 269.50" stroke="#008000"/>
<path d="M146.34 -0.00 L146.43 1.21 L146.55 2.81 L146.69 4.72 L146.84 6.84 L147.01 9.09 L147.18 11.36 L147.34 13.58 L147.50 15.64 L147.64 17.60 L147.79 19.55 L147.93 21.51 L148.08 23.47 L148.22 25.42 L148.37 27.38 L148.52 29.33 L148.67 31.29 L148.82 33.25 L148.97 35.20 L149.13 37.16 L149.28 39.11 L149.44 41.07 L149.59 43.03 L149.76 44.98 L149.92 46.94 L150.08 48.89 L150.25 50.85 L150.42 52.80 L150.59 54.75 L150.76 56.71 L150.94 58.66 L151.12 60.62 L151.30 62.57 L151.49 64.52 L151.68 66.47 L151.87 68.43 L152.06 70.38 L152.26 72.33 L152.46 74.28 L152.67 76.23 L152.88 78.18 L153.09 80.13 L153.31 82.08 L153.53 84.03 L153.76 85.97 L153.99 87.92 L154.22 89.87 L154.47 91.81 L154.71 93.76 L154.96 95.70 L155.22 97.65 L155.48 99.59 L155.74 101.53 L156.01 103.47 L156.29 105.41 L156.57 107.35 L156.86 109.29 L157.15 111.23 L157.45 113.17 L157.76 115.11 L158.07 117.04 L158.39 118.98 L158.71 120.91 L159.04 122.84 L159.38 124.78 L159.74 126.77 L160.13 128.86 L160.53 130.98 L160.94 133.08 L161.34 135.11 L161.71 137.00 L162.05 138.72 L162.34 140.20 L162.57 141.42 L162.76 142.44 L162.91 143.29 L163.04 144.01 L163.15 144.62 L163.26 145.17 L163.37 145.68 L163.50 146.20 L163.63 146.70 L163.74 147.13 L163.85 147.50 L163.96 147.83 L164.07 148.10 L164.20 148.33 L164.34 148.53 L164.50 148.70 L164.69 148.84 L164.91 148.93 L165.15 148.99 L165.39 149.01 L165.64 148.99 L165.88 148.93 L166.10 148.84 L166.30 148.70 L166.45 148.58 L166.54 148.49 L166.61 148.39 L166.68 148.24 L166.77 147.99 L166.90 147.60 L167.10 147.02 L167.40 146.20 L167.81 145.06 L168.31 143.61 L168.89 141.93 L169.51 140.12 L170.14 138.29 L170.77 136.51 L171.37 134.88 L171.90 133.50 L172.39 132.33 L172.87 131.25 L173.33 130.28 L173.78 129.39 L174.21 128.58 L174.60 127.85 L174.97 127.19 L175.30 126.60 L175.58 126.09 L175.80 125.69 L175.99 125.37 L176.15 125.12 L176.31 124.92 L176.47 124.76 L176.66 124.63 L176.90 124.50 L177.18 124.39 L177.50 124.30 L177.83 124.25 L178.18 124.24 L178.53 124.25 L178.88 124.30 L179.20 124.39 L179.50 124.50 L179.76 124.63 L179.99 124.76 L180.20 124.92 L180.40 125.11 L180.61 125.36 L180.84 125.68 L181.10 126.09 L181.40 126.60 L181.75 127.21 L182.13 127.91 L182.55 128.69 L182.98 129.54 L183.43 130.46 L183.88 131.45 L184.34 132.49 L184.79 133.58 L185.24 134.76 L185.71 136.03 L186.18 137.37 L186.66 138.77 L187.13 140.20 L187.61 141.64 L188.07 143.07 L188.53 144.46 L188.97 145.84 L189.41 147.21 L189.84 148.59 L190.27 149.98 L190.69 151.36 L191.11 152.75 L191.53 154.13 L191.94 155.52 L192.35 156.92 L192.76 158.31 L193.17 159.71 L193.57 161.10 L193.96 162.50 L194.36 163.91 L194.75 165.31 L195.15 166.71 L195.54 168.11 L195.93 169.52 L196.32 170.92 L196.70 172.33 L197.09 173.74 L197.47 175.15 L197.86 176.56 L198.25 177.97 L198.63 179.38 L199.02 180.79 L199.40 182.20 L199.79 183.61 L200.18 185.02 L200.56 186.43 L200.95 187.84 L201.35 189.24 L201.74 190.65 L202.14 192.06 L202.53 193.47 L202.93 194.88 L203.33 196.28 L203.73 197.69 L204.14 199.09 L204.55 200.49 L204.97 201.89 L205.39 203.29 L205.81 204.69 L206.23 206.08 L206.66 207.48 L207.09 208.87 L207.53 210.26 L207.97 211.65 L208.42 213.04 L208.88 214.42 L209.33 215.80 L209.80 217.18 L210.26 218.56 L210.74 219.94 L211.22 221.31 L211.71 222.68 L212.21 224.04 L212.71 225.40 L213.22 226.76 L213.74 228.12 L214.26 229.47 L214.79 230.82 L215.33 232.17 L215.88 233.51 L216.44 234.84 L217.01 236.17 L217.59 237.50" stroke="#008000" stroke-width="5.3" stroke-linecap="round"/>
<path d="M214.26 229.47 L214.79 230.82 L215.33 232.17 L215.88 233.51 L216.44 234.84 L217.01 236.17 L217.59 237.50 L218.17 238.82 L218.77 240.14 L219.37 241.45 L219.99 242.76 L220.62 244.06 L221.26 245.35 L221.91 246.64 L222.58 247.93 L223.25 249.20 L223.93 250.47 L224.63 251.74 L225.35 252.99 L226.08 254.24 L226.82 255.48 L227.57 256.71 L228.34 257.94 L229.12 259.16 L229.92 260.37 L230.73 261.57 L231.56 262.76 L232.40 263.95 L233.28 265.15 L234.21 266.39 L235.17 267.64 L236.14 268.88 L237.10 270.06 L238.03 271.18 L238.92 272.20 L239.75 273.08 L240.49 273.83 L241.17 274.44 L241.79 274.96 L242.40 275.41 L242.99 275.81 L243.61 276.19 L244.27 276.58 L245.00 277.00 L245.78 277.46 L246.60 277.92 L247.45 278.38 L248.33 278.83 L249.22 279.26 L250.14 279.65 L251.07 280.00 L252.00 280.30 L252.96 280.54 L253.96 280.74 L254.98 280.89 L256.01 281.01 L257.04 281.10 L258.06 281.17 L259.05 281.24 L260.00 281.30 L260.90 281.34 L261.76 281.35 L262.59 281.34 L263.40 281.32 L264.21 281.29 L265.04 281.27 L265.90 281.27 L266.80 281.30 L267.74 281.32 L268.72 281.32 L269.71 281.32 L270.73 281.33 L271.75 281.38 L272.77 281.50 L273.79 281.70 L274.80 282.00 L275.78 282.40 L276.74 282.86 L277.68 283.40 L278.63 284.01 L279.60 284.68 L280.61 285.42 L281.67 286.23 L282.80 287.10 L284.01 288.07 L285.28 289.14 L286.61 290.29 L287.98 291.50 L289.36 292.75 L290.75 294.01 L292.14 295.27 L293.50 296.50 L294.85 297.74 L296.20 299.02 L297.55 300.33 L298.90 301.64 L300.25 302.92 L301.60 304.16 L302.95 305.33 L304.30 306.40 L305.63 307.39 L306.95 308.33 L308.26 309.22 L309.58 310.05 L310.90 310.82 L312.24 311.54 L313.60 312.20 L315.00 312.80 L316.43 313.32 L317.89 313.76 L319.37 314.14 L320.88 314.46 L322.39 314.74 L323.92 315.00 L325.46 315.25 L327.00 315.50 L328.59 315.75 L330.26 315.99 L331.96 316.20 L333.66 316.39 L335.32 316.57 L336.90 316.73 L338.38 316.87 L339.70 317.00 L340.81 317.09 L341.72 317.14 L342.50 317.16 L343.21 317.17 L343.92 317.18 L344.71 317.21 L345.65 317.28 L346.80 317.40 L348.17 317.57 L349.71 317.77 L351.37 318.00 L353.11 318.26 L354.91 318.53 L356.71 318.81 L358.49 319.11 L360.20 319.40 L361.87 319.70 L363.53 320.02 L365.19 320.34 L366.85 320.68 L368.51 321.03 L370.17 321.38 L371.83 321.74 L373.50 322.10 L375.17 322.47 L376.84 322.86 L378.52 323.26 L380.19 323.66 L381.87 324.06 L383.55 324.45 L385.22 324.83 L386.90 325.20 L388.60 325.55 L390.32 325.89 L392.06 326.22 L393.79 326.55 L395.49 326.87 L397.16 327.18 L398.77 327.49 L400.30 327.80 L401.73 328.11 L403.07 328.42 L404.35 328.74 L405.58 329.04 L406.81 329.34 L408.05 329.62 L409.34 329.87 L410.70 330.10 L412.13 330.31 L413.61 330.51 L415.12 330.70 L416.65 330.87 L418.20 331.01 L419.74 331.11 L421.28 331.18 L422.80 331.20 L424.31 331.17 L425.84 331.09 L427.36 330.98 L428.89 330.83 L430.40 330.65 L431.89 330.46 L433.36 330.24 L434.80 330.02 L436.20 329.78 L437.57 329.53 L438.91 329.26 L440.23 328.96 L441.54 328.65" stroke="#008000" stroke-width="5.9" stroke-linecap="round"/>
<path d="M438.91 329.26 L440.23 328.96 L441.54 328.65 L442.86 328.31 L444.17 327.96 L445.50 327.57 L446.84 327.16 L448.18 326.72 L449.51 326.26 L450.85 325.78 L452.19 325.28 L453.52 324.76 L454.86 324.24 L456.20 323.71 L457.54 323.17 L458.88 322.62 L460.21 322.06 L461.55 321.49" stroke="#008000" stroke-width="6" stroke-linecap="round"/>
<path d="M458.88 322.62 L460.21 322.06 L461.55 321.49 L462.89 320.90 L464.22 320.30 L465.56 319.70 L466.90 319.08 L468.24 318.45 L469.57 317.79 L470.91 317.13 L472.24 316.45 L473.58 315.77 L474.92 315.09 L476.26 314.42 L477.60 313.75 L478.94 313.10 L480.27 312.45 L481.61 311.80 L482.94 311.16 L484.29 310.51 L485.64 309.86 L487.01 309.19 L488.40 308.52 L489.78 307.85 L491.12 307.20 L492.46 306.54 L493.83 305.88 L495.23 305.20 L496.72 304.48 L498.30 303.72 L500.00 302.90 L501.87 302.00 L503.91 301.03 L506.07 300.00 L508.29 298.95 L510.52 297.89 L512.72 296.85 L514.83 295.87 L516.80 294.96 L518.64 294.13 L520.39 293.36 L522.08 292.62 L523.72 291.92 L525.33 291.23 L526.94 290.54 L528.55 289.83 L530.20 289.09 L531.87 288.33 L533.53 287.53 L535.19 286.73 L536.85 285.93 L538.51 285.13 L540.17 284.35 L541.83 283.61 L543.50 282.90 L545.17 282.22 L546.84 281.57 L548.52 280.94 L550.19 280.33 L551.87 279.74 L553.55 279.18 L555.22 278.63 L556.90 278.09 L558.53 277.59 L560.11 277.11 L561.66 276.65 L563.23 276.21 L564.84 275.79 L566.53 275.36 L568.34 274.93 L570.30 274.49 L572.51 274.03 L574.97 273.56 L577.59 273.08 L580.27 272.60 L582.92 272.14 L585.44 271.70" stroke="#008000" stroke-width="6.3" stroke-linecap="round"/>
<path d="M585.44 271.70 L587.73 271.30 L589.70 270.94 L591.31 270.64 L592.63 270.38 L593.74 270.17 L594.71 269.97 L595.61 269.79 L596.53 269.62 L597.54 269.43 L598.70 269.23 L599.94 269.01 L601.16 268.79 L602.39 268.57 L603.66 268.35 L605.02 268.13 L606.51 267.92 L608.16 267.71 L610.00 267.50" stroke="#008000" stroke-width="5.6" stroke-linecap="round"/>
<path d="M192.18 0.22 C192.53 1.98 193.60 7.26 194.28 10.79 C194.96 14.32 195.62 17.87 196.28 21.41 C196.94 24.96 197.58 28.51 198.22 32.07 C198.86 35.63 199.49 39.20 200.13 42.76 C200.76 46.33 201.39 49.90 202.03 53.48 C202.67 57.05 203.31 60.62 203.96 64.19 C204.61 67.77 205.27 71.34 205.94 74.91 C206.61 78.48 207.30 82.05 208.00 85.62 C208.71 89.18 209.43 92.74 210.18 96.30 C210.92 99.85 211.69 103.40 212.49 106.94 C213.29 110.49 214.11 114.02 214.97 117.55 C215.83 121.07 216.72 124.59 217.65 128.09 C218.58 131.60 219.55 135.09 220.56 138.58 C221.57 142.06 222.62 145.53 223.72 148.98 C224.82 152.43 225.97 155.87 227.17 159.30 C228.37 162.72 229.62 166.13 230.93 169.52 C232.24 172.90 233.60 176.28 235.03 179.63 C236.46 182.98 237.94 186.31 239.50 189.62 C241.05 192.93 242.68 196.22 244.37 199.47 C246.06 202.72 247.82 205.96 249.65 209.13 C251.48 212.31 253.38 215.46 255.35 218.54 C257.32 221.63 259.37 224.67 261.48 227.63 C263.60 230.60 265.79 233.51 268.06 236.34 C270.33 239.17 272.67 241.93 275.10 244.60 C277.52 247.27 280.02 249.86 282.59 252.35 C285.17 254.84 287.83 257.24 290.57 259.53 C293.31 261.82 296.13 264.01 299.03 266.07 C301.93 268.13 304.92 270.09 307.99 271.91 C311.05 273.73 314.21 275.43 317.43 277.00 C320.65 278.57 323.96 280.01 327.30 281.34 C330.65 282.66 334.06 283.85 337.51 284.92 C340.96 285.99 344.46 286.94 347.99 287.76 C351.51 288.59 355.08 289.29 358.65 289.86 C362.22 290.44 365.82 290.89 369.41 291.23 C373.01 291.56 376.61 291.76 380.22 291.87 C383.83 291.98 387.44 291.96 391.05 291.87 C394.66 291.78 398.27 291.58 401.89 291.32 C405.50 291.05 409.12 290.70 412.74 290.30 C416.36 289.89 419.98 289.41 423.60 288.90 C427.22 288.39 430.84 287.81 434.45 287.22 C438.07 286.63 441.69 285.99 445.30 285.35 C448.92 284.70 452.53 284.03 456.14 283.36 C459.75 282.70 463.36 282.02 466.96 281.37 C470.56 280.71 474.16 280.06 477.76 279.44 C481.36 278.82 484.95 278.21 488.54 277.63 C492.13 277.05 495.71 276.49 499.30 275.95 C502.89 275.42 506.47 274.91 510.05 274.43 C513.63 273.95 517.22 273.49 520.80 273.08 C524.38 272.66 527.96 272.26 531.55 271.91 C535.13 271.56 538.71 271.23 542.30 270.95 C545.89 270.67 549.47 270.43 553.07 270.22 C556.66 270.02 560.25 269.85 563.85 269.74 C567.44 269.62 571.04 269.54 574.65 269.51 C578.25 269.48 581.86 269.50 585.47 269.55 C589.08 269.60 592.70 269.70 596.32 269.83 C599.93 269.96 603.55 270.13 607.18 270.32 C610.80 270.52 614.42 270.75 618.05 271.01 C621.67 271.27 625.30 271.55 628.92 271.86 C632.55 272.17 636.18 272.51 639.80 272.86 C643.43 273.21 647.06 273.58 650.68 273.97 C654.31 274.36 657.93 274.77 661.56 275.18 C665.18 275.59 668.80 276.02 672.42 276.46 C676.04 276.89 679.66 277.34 683.27 277.78 C686.89 278.23 690.50 278.68 694.11 279.13 C697.72 279.58 701.32 280.03 704.92 280.47 C708.52 280.91 712.12 281.36 715.71 281.79 C719.30 282.22 722.89 282.64 726.47 283.05 C730.05 283.46 733.63 283.86 737.20 284.24 C740.77 284.62 746.11 285.15 747.89 285.33" stroke="#ff0000" stroke-width="4.6"/>
</g>
<g stroke="#000" fill="none">
<rect x="98.8" y="13.7" width="647.15" height="453.4" stroke-width="2.3"/>
<path d="M98.80 467.1 V441.1 M98.80 13.7 V39.7 M242.61 467.1 V441.1 M242.61 13.7 V39.7 M386.42 467.1 V441.1 M386.42 13.7 V39.7 M530.23 467.1 V441.1 M530.23 13.7 V39.7 M674.04 467.1 V441.1 M674.04 13.7 V39.7 M170.71 467.1 V454.1 M170.71 13.7 V26.7 M314.52 467.1 V454.1 M314.52 13.7 V26.7 M458.33 467.1 V454.1 M458.33 13.7 V26.7 M602.14 467.1 V454.1 M602.14 13.7 V26.7 M745.95 467.1 V454.1 M745.95 13.7 V26.7 M98.8 467.10 H124.8 M745.95 467.10 H719.95 M98.8 315.97 H124.8 M745.95 315.97 H719.95 M98.8 164.83 H124.8 M745.95 164.83 H719.95 M98.8 13.70 H124.8 M745.95 13.70 H719.95 M98.8 391.53 H111.8 M745.95 391.53 H732.95 M98.8 240.40 H111.8 M745.95 240.40 H732.95 M98.8 89.27 H111.8 M745.95 89.27 H732.95" stroke-width="2.0"/>
</g>
<g font-family="'Liberation Serif', serif" font-size="100" fill="#000">
<text transform="matrix(0.375 0 0 0.375 99.30 505.0)" text-anchor="middle">0</text>
<text transform="matrix(0.375 0 0 0.375 243.11 505.0)" text-anchor="middle">100</text>
<text transform="matrix(0.375 0 0 0.375 386.92 505.0)" text-anchor="middle">200</text>
<text transform="matrix(0.375 0 0 0.375 530.73 505.0)" text-anchor="middle">300</text>
<text transform="matrix(0.375 0 0 0.375 674.54 505.0)" text-anchor="middle">400</text>
<text transform="matrix(0.375 0 0 0.375 86.9 479.50)" text-anchor="end">0</text>
<text transform="matrix(0.375 0 0 0.375 86.9 328.37)" text-anchor="end">5</text>
<text transform="matrix(0.375 0 0 0.375 86.9 177.23)" text-anchor="end">10</text>
<text transform="matrix(0.375 0 0 0.375 86.9 26.10)" text-anchor="end">15</text>
</g>
<g font-family="'Liberation Serif', serif" font-size="100" fill="#000">
<text transform="matrix(0.3609 0 0 0.3553 362.50 548.05)" font-style="italic">ω</text>
<text transform="matrix(0.3926 0 0 0.3417 403.68 547.80)">m</text>
<text transform="matrix(0.3918 0 0 0.3535 434.07 548.05)">e</text>
<text transform="matrix(0.3959 0 0 0.3762 451.06 547.83)">V</text>
<text transform="matrix(0.2950 0 0 0.2947 655.57 314.90)">×</text>
<text transform="matrix(0.2386 0 0 0.2409 672.60 311.30)">1</text>
<text transform="matrix(0.2572 0 0 0.2460 683.92 311.66)">0</text>
<text transform="matrix(0.1807 0 0 0.1717 696.85 302.70)">4</text>
<text transform="matrix(0.3638 0 0 0.3131 520.42 98.00)" font-style="italic">T</text>
<text transform="matrix(0.3674 0 0 0.3131 555.40 98.00)" font-style="italic">T</text>
<text transform="matrix(0.2361 0 0 0.1996 575.07 102.01)" font-style="italic">c</text>
<text transform="matrix(0.4298 0 0 0.3120 593.86 100.66)">=</text>
<text transform="matrix(0.3421 0 0 0.2919 625.30 97.81)">0</text>
<text transform="matrix(0.2708 0 0 0.2708 643.21 97.42)">.</text>
<text transform="matrix(0.2698 0 0 0.2908 649.33 97.80)">1</text>
<text transform="matrix(0.3638 0 0 0.3131 520.42 132.60)" font-style="italic">T</text>
<text transform="matrix(0.3674 0 0 0.3131 555.40 132.60)" font-style="italic">T</text>
<text transform="matrix(0.2361 0 0 0.1996 575.07 136.61)" font-style="italic">c</text>
<text transform="matrix(0.4298 0 0 0.3120 593.86 135.26)">=</text>
<text transform="matrix(0.3421 0 0 0.2919 625.30 132.41)">0</text>
<text transform="matrix(0.2708 0 0 0.2708 643.21 132.02)">.</text>
<text transform="matrix(0.3257 0 0 0.2963 648.35 132.40)">7</text>
<text transform="matrix(0.2805 0 0 0.2934 663.37 132.41)">5</text>
<text transform="matrix(0.3638 0 0 0.3131 520.42 167.20)" font-style="italic">T</text>
<text transform="matrix(0.3674 0 0 0.3131 555.40 167.20)" font-style="italic">T</text>
<text transform="matrix(0.2361 0 0 0.1996 575.07 171.21)" font-style="italic">c</text>
<text transform="matrix(0.4298 0 0 0.3120 593.86 169.86)">=</text>
<text transform="matrix(0.3421 0 0 0.2919 625.30 167.01)">0</text>
<text transform="matrix(0.2708 0 0 0.2708 643.21 166.62)">.</text>
<text transform="matrix(0.3114 0 0 0.2919 649.31 167.01)">8</text>
<text transform="matrix(0.2805 0 0 0.2934 663.37 167.01)">5</text>
<text transform="matrix(0.3638 0 0 0.3131 520.42 201.80)" font-style="italic">T</text>
<text transform="matrix(0.3674 0 0 0.3131 555.40 201.80)" font-style="italic">T</text>
<text transform="matrix(0.2361 0 0 0.1996 575.07 205.81)" font-style="italic">c</text>
<text transform="matrix(0.4298 0 0 0.3120 593.86 204.46)">=</text>
<text transform="matrix(0.2926 0 0 0.2908 625.73 201.60)">1</text>
<text transform="matrix(0.2708 0 0 0.2708 643.21 201.22)">.</text>
<text transform="matrix(0.3350 0 0 0.2919 647.42 201.61)">0</text>
</g>
<g transform="rotate(-90)" font-family="'Liberation Serif', serif" font-size="100" fill="#000">
<text transform="matrix(0.3679 0 0 0.4163 -355.72 33.10)">4</text>
<text transform="matrix(0.3992 0 0 0.3968 -335.21 33.21)" font-style="italic">π</text>
<text transform="matrix(0.4036 0 0 0.4185 -312.56 33.10)">R</text>
<text transform="matrix(0.4431 0 0 0.3867 -286.03 33.22)">e</text>
<text transform="matrix(0.4322 0 0 0.3673 -267.69 33.24)" font-style="italic">σ</text>
<text transform="matrix(0.3753 0 0 0.4033 -229.15 33.21)" font-style="italic">ω</text>
<text transform="matrix(0.3625 0 0 0.4033 -168.30 33.21)" font-style="italic">ω</text>
<text transform="matrix(0.2844 0 0 0.2265 -141.25 17.90)">2</text>
<text transform="matrix(0.3057 0 0 0.2500 -143.39 41.78)">p</text>
</g>
<path d="M401.15 521.15 Q381.55 539.60 401.15 558.05 Q386.35 539.60 401.15 521.15 Z" fill="#000" stroke="#000" stroke-width="0.9" stroke-linejoin="round"/>
<path d="M482.55 521.15 Q500.15 539.60 482.55 558.05 Q495.35 539.60 482.55 521.15 Z" fill="#000" stroke="#000" stroke-width="0.9" stroke-linejoin="round"/>
<path d="M544.80 104.80 L555.40 75.40" stroke="#000" stroke-width="1.5" fill="none" stroke-linecap="butt"/>
<path d="M544.80 139.40 L555.40 110.00" stroke="#000" stroke-width="1.5" fill="none" stroke-linecap="butt"/>
<path d="M544.80 174.00 L555.40 144.60" stroke="#000" stroke-width="1.5" fill="none" stroke-linecap="butt"/>
<path d="M544.80 208.60 L555.40 179.20" stroke="#000" stroke-width="1.5" fill="none" stroke-linecap="butt"/>
<path d="M3.35 229.75 Q22.50 247.95 41.65 229.75 Q22.50 243.15 3.35 229.75 Z" fill="#000" stroke="#000" stroke-width="0.9" stroke-linejoin="round"/>
<path d="M3.35 200.95 Q22.50 182.75 41.65 200.95 Q22.50 187.55 3.35 200.95 Z" fill="#000" stroke="#000" stroke-width="0.9" stroke-linejoin="round"/>
<path d="M42.10 185.00 L2.90 170.00" stroke="#000" stroke-width="1.7" fill="none" stroke-linecap="butt"/>
<path d="M450.4 89.4 H502.3" stroke="#0000ff" stroke-width="5" fill="none"/>
<path d="M450.4 123.4 H502.3" stroke="#000000" stroke-width="5" fill="none"/>
<path d="M450.4 157.8 H502.3" stroke="#008000" stroke-width="5" fill="none"/>
<path d="M450.4 192 H502.3" stroke="#ff0000" stroke-width="5" fill="none"/>
</svg>
</body></html>
